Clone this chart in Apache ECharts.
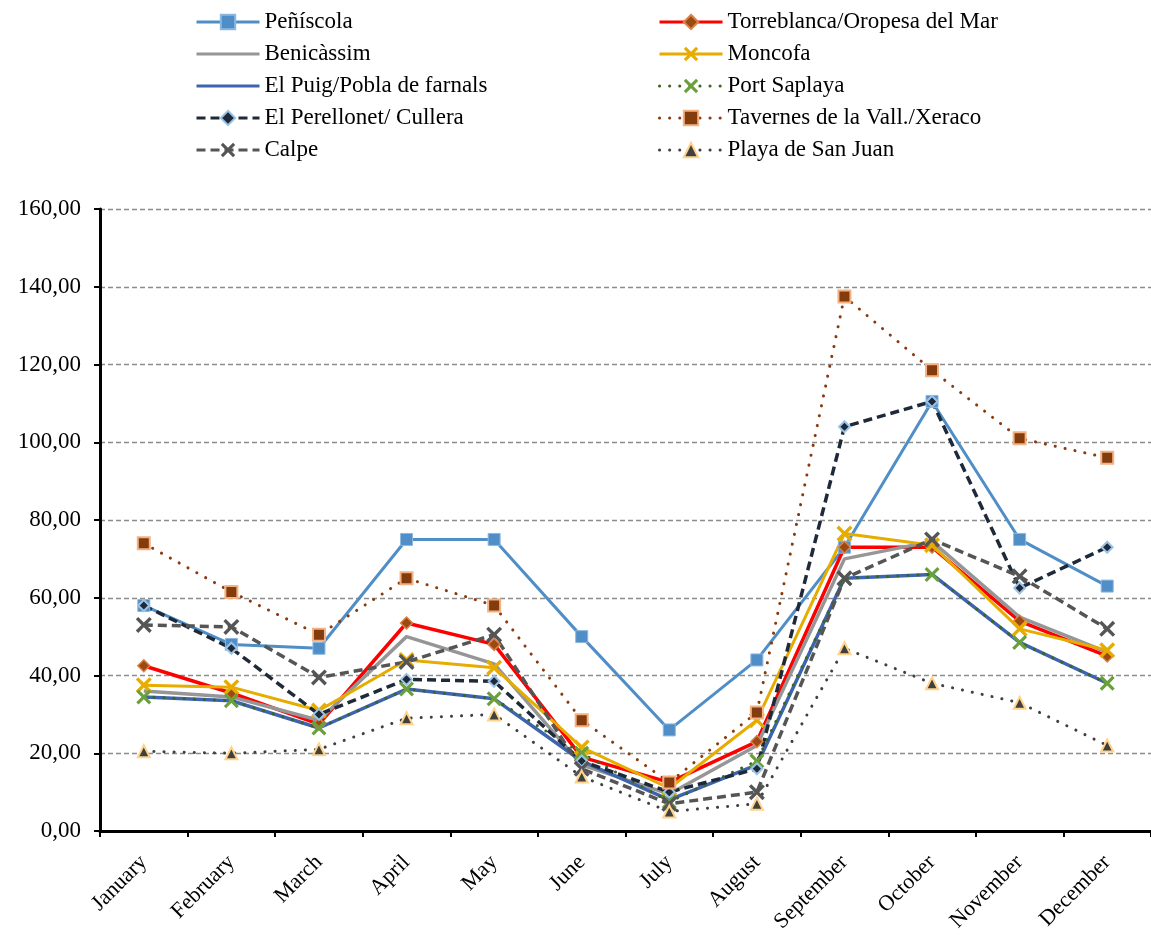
<!DOCTYPE html>
<html>
<head>
<meta charset="utf-8">
<script src="https://cdn.jsdelivr.net/npm/echarts@6/dist/echarts.min.js"></script>
<style>
  html, body { margin: 0; padding: 0; background: #ffffff; }
  #chart { width: 1151px; height: 936px; }
</style>
</head>
<body>
<div id="chart"></div>
<script>
// Months on the category axis
const months = ['January', 'February', 'March', 'April', 'May', 'June',
  'July', 'August', 'September', 'October', 'November', 'December'];

// Monthly values per beach area
const peniscola   = [58, 48, 47, 75, 75, 50, 26, 44, 73, 110.5, 75, 63];
const torreblanca = [42.5, 35.5, 27.5, 53.5, 48, 19, 12.5, 23, 73, 73, 54, 45];
const benicassim  = [36, 34.5, 28.5, 50, 43, 17, 9.5, 22, 70, 74.5, 55, 46];
const moncofa     = [37.5, 37, 31, 44, 42, 21.5, 11, 28.5, 76.5, 73.5, 52, 46.5];
const elPuig      = [34.5, 33.5, 26.5, 36.5, 34, 18, 8, 17, 65, 66, 48.5, 38];
const portSaplaya = [34.5, 33.5, 26.5, 36.5, 34, 20, 7.5, 18, 65, 66, 48.5, 38];
const perellonet  = [58, 47, 30, 39, 38.5, 18, 10, 16, 104, 110.5, 62.5, 73];
const tavernes    = [74, 61.5, 50.5, 65, 58, 28.5, 12.5, 30.5, 137.5, 118.5, 101, 96];
const calpe       = [53, 52.5, 39.5, 43.5, 50.5, 16, 7, 10, 65, 75, 65.5, 52];
const playaSanJuan= [20.5, 20, 21, 29, 30, 14, 5, 7, 47, 38, 33, 22];

// Y axis ticks
const yMin = 0, yMax = 160, yStep = 20;

const FONT = "'Liberation Serif', 'Times New Roman', serif";
const CROSS = 'path://M0,3 L3,0 L10,7 L17,0 L20,3 L13,10 L20,17 L17,20 L10,13 L3,20 L0,17 L7,10 Z';
const DOTS = [0.1, 10];

function line(name, data, color, width, type, symbol, size, fill, border, borderW, cap) {
  return {
    name, type: 'line', data,
    symbol: symbol || 'none',
    symbolSize: size || 0,
    showSymbol: !!symbol,
    lineStyle: { color, width, type: type || 'solid', cap: cap || 'butt' },
    itemStyle: { color: fill || color, borderColor: border || fill || color, borderWidth: borderW || 0 },
    emphasis: { disabled: true },
    animation: false
  };
}

const series = [
  line('Peñíscola', peniscola, '#4f8ec6', 3, 'solid', 'rect', 12, '#4f8ec6', '#8db8e0', 1),
  line('Torreblanca/Oropesa del Mar', torreblanca, '#ff0000', 3.5, 'solid', 'diamond', 12, '#9c4a12', '#d9834a', 1.5),
  line('Benicàssim', benicassim, '#969696', 3.5, 'solid'),
  line('Moncofa', moncofa, '#e6ac00', 3, 'solid', CROSS, 16, '#e6ac00'),
  line('El Puig/Pobla de farnals', elPuig, '#3e64ae', 3.5, 'solid'),
  line('Port Saplaya', portSaplaya, '#3b6620', 3, DOTS, CROSS, 15, '#6aa03c', null, 0, 'round'),
  line('El Perellonet/ Cullera', perellonet, '#1e2a3a', 3.5, [9, 5], 'diamond', 11, '#1e2a3a', '#9dc3e6', 2),
  line('Tavernes de la Vall./Xeraco', tavernes, '#8a3a0c', 3, DOTS, 'rect', 12, '#843c0c', '#f4b183', 2, 'round'),
  line('Calpe', calpe, '#555555', 3.5, [9, 5], CROSS, 16, '#555555'),
  line('Playa de San Juan', playaSanJuan, '#404040', 3, DOTS, 'triangle', 12, '#404040', '#ffd38a', 2, 'round')
];

const legendText = { fontFamily: FONT, fontSize: 23, color: '#000', lineHeight: 24 };
const noMarker = { opacity: 0 };
const legendBase = {
  orient: 'vertical', top: 5,
  itemWidth: 63, itemHeight: 18, itemGap: 8, itemTextGap: 6,
  lineStyle: { width: 3 },
  textStyle: legendText, selectedMode: false
};

const option = {
  backgroundColor: '#ffffff',
  animation: false,
  legend: [
    Object.assign({}, legendBase, {
      left: 190,
      data: [
        'Peñíscola',
        { name: 'Benicàssim', itemStyle: noMarker },
        { name: 'El Puig/Pobla de farnals', itemStyle: noMarker },
        'El Perellonet/ Cullera',
        'Calpe'
      ]
    }),
    Object.assign({}, legendBase, {
      left: 653,
      data: ['Torreblanca/Oropesa del Mar', 'Moncofa', 'Port Saplaya',
        'Tavernes de la Vall./Xeraco', 'Playa de San Juan']
    })
  ],
  grid: { left: 100, top: 209, width: 1053, bottom: 105, containLabel: false },
  xAxis: {
    type: 'category', data: months, boundaryGap: true,
    axisLine: { show: true, lineStyle: { color: '#000', width: 3 } },
    axisTick: { show: true, length: 6, lineStyle: { color: '#000', width: 2 } },
    axisLabel: { rotate: 45, fontFamily: FONT, fontSize: 22, color: '#000', margin: 28, interval: 0 }
  },
  yAxis: {
    type: 'value', min: yMin, max: yMax, interval: yStep,
    axisLine: { show: true, lineStyle: { color: '#000', width: 3 } },
    axisTick: { show: true, inside: false, length: 6, lineStyle: { color: '#000', width: 2 } },
    axisLabel: {
      fontFamily: FONT, fontSize: 23, color: '#000', margin: 19,
      formatter: v => v.toFixed(2).replace('.', ',')
    },
    splitLine: { show: true, lineStyle: { color: '#8c8c8c', width: 1.3, type: [5, 3] } }
  },
  series
};

const chart = echarts.init(document.getElementById('chart'), null, { renderer: 'canvas' });
chart.setOption(option);
</script>
</body>
</html>
